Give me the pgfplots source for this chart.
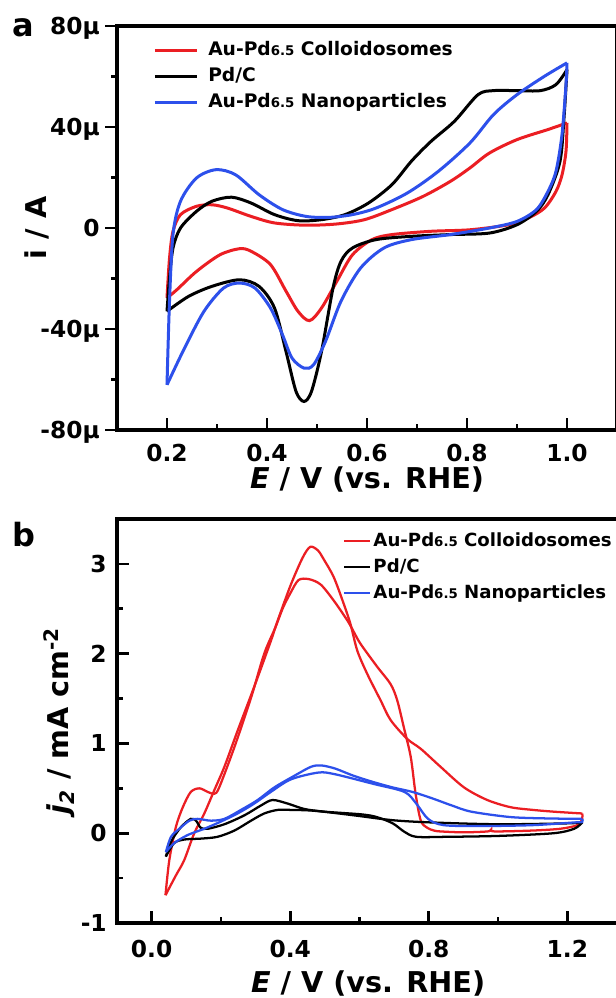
\documentclass[border=0pt]{standalone}
\usepackage{fontspec}
\setmainfont{DejaVu Sans}
\usepackage{pgfplots}
\pgfplotsset{compat=1.18}
\definecolor{cred}{RGB}{235,30,35}
\definecolor{cblue}{RGB}{45,80,235}
\newcommand\tickfont{\fontsize{17.5}{20}\selectfont\bfseries}
\newcommand\labfont{\fontsize{21.5}{24}\selectfont\bfseries}
\newcommand\legfont{\fontsize{14}{16}\selectfont\bfseries}
\newcommand\legfontb{\fontsize{13.6}{16}\selectfont\bfseries}
\newcommand\sm[1]{{\fontsize{10}{12}\selectfont #1}}
\pgfplotsset{
  myax/.style={
    scale only axis,
    clip=false,
    axis line style={line width=2.4pt},
    every tick/.style={line width=2pt, black},
    major tick length=9pt, minor tick length=4.5pt,
    tick align=inside,
    xtick pos=bottom, ytick pos=left,
    minor tick num=1,
    ticklabel style={font=\tickfont},
    label style={font=\labfont},
    /pgf/number format/assume math mode=true,
    legend cell align=left,
  }
}
\begin{document}
\begin{tikzpicture}
% ---------------- panel a ----------------
\begin{axis}[myax,
  at={(87.75pt,-322.5pt)}, anchor=south west,
  width=375pt, height=303pt,
  xmin=0.1, xmax=1.1, ymin=-80, ymax=80,
  xtick={0.2,0.4,0.6,0.8,1.0}, xticklabels={0.2,0.4,0.6,0.8,1.0},
  ytick={-80,-40,0,40,80}, yticklabels={-80µ,-40µ,0,40µ,80µ},
  major y tick style={xshift=-9pt},
  minor y tick style={xshift=-4.5pt},
  yticklabel style={anchor=east, inner sep=0pt, text depth=0pt, xshift=-12.75pt},
  xticklabel style={anchor=north, inner sep=0pt, yshift=-10.5pt},
  xlabel={{\itshape E} / V (vs. RHE)},
  ylabel={i / A},
  xlabel style={at={(axis description cs:0.5,-0.1436)}, anchor=base},
  ylabel style={at={(axis description cs:-0.142,0.5)}, anchor=base, rotate=0},
  legend style={at={(axis description cs:0.072,0.962)}, anchor=north west,
    draw=none, fill=none, inner sep=0pt, font=\legfont, row sep=6pt,
    nodes={inner sep=0pt, text height=10.5pt, text depth=3pt}},
  legend image code/.code={\draw[#1, line width=2.25pt] (0pt,0pt) -- (31.5pt,0pt); \path (39pt,0pt);},
]
\addplot[cred, line width=2.25pt, smooth, tension=0.5] table {
0.200 -27.7
0.205 -12
0.212 -1.3
0.227 5.3
0.259 8.6
0.290 9.2
0.321 7.9
0.368 4.6
0.415 2.0
0.478 1.1
0.540 1.6
0.595 3.3
0.650 7.3
0.712 12.5
0.767 18.5
0.806 23.8
0.845 29.7
0.900 35.0
0.962 39.0
1.000 41.6
};
\addlegendentry{Au-Pd\sm{6.5} Colloidosomes}
\addplot[cred, line width=2.25pt, smooth, tension=0.5, forget plot] table {
1.000 41.6
0.998 30.4
0.990 21.0
0.978 14.5
0.955 7.9
0.923 4.0
0.884 1.3
0.806 -0.7
0.728 -1.3
0.650 -2.6
0.610 -4.6
0.571 -10.6
0.540 -21.0
0.509 -31.7
0.485 -36.7
0.462 -33.0
0.438 -25.0
0.407 -14.5
0.368 -9.2
0.345 -8.2
0.306 -10.6
0.259 -17.2
0.220 -24.4
0.200 -27.7
};
\addplot[black, line width=2.25pt, smooth, tension=0.5] table {
0.200 -33.0
0.205 -20
0.212 -7.9
0.227 0.0
0.259 6.6
0.290 10.6
0.329 12.2
0.368 9.9
0.415 5.3
0.462 2.9
0.509 3.3
0.556 5.3
0.603 9.9
0.650 17.2
0.689 26.5
0.728 34.3
0.775 42.3
0.822 52.8
0.853 54.4
0.900 54.4
0.947 54.4
0.978 56.8
1.000 62.7
};
\addlegendentry{Pd/C}
\addplot[black, line width=2.25pt, smooth, tension=0.5, forget plot] table {
1.000 62.7
0.994 43.6
0.986 26.4
0.962 13.2
0.939 6.6
0.900 1.3
0.845 -2.0
0.767 -2.6
0.689 -3.3
0.618 -4.6
0.571 -7.9
0.548 -13.2
0.532 -23.8
0.509 -48.9
0.489 -64.7
0.474 -68.7
0.458 -64.7
0.438 -48.9
0.415 -31.7
0.384 -23.1
0.345 -20.5
0.290 -23.1
0.243 -27.1
0.200 -33.0
};
\addplot[cblue, line width=2.25pt, smooth, tension=0.5] table {
0.200 -62.1
0.205 -29
0.212 -2.6
0.227 10.6
0.259 19.8
0.298 23.1
0.337 21.1
0.384 13.2
0.431 7.3
0.478 4.6
0.524 4.2
0.571 5.3
0.618 7.9
0.681 13.9
0.743 22.5
0.806 33.7
0.853 44.9
0.900 52.8
0.955 60.1
1.000 65.4
};
\addlegendentry{Au-Pd\sm{6.5} Nanoparticles}
\addplot[cblue, line width=2.25pt, smooth, tension=0.5, forget plot] table {
1.000 65.4
0.998 56.8
0.990 37.0
0.978 22.5
0.962 14.5
0.939 7.3
0.900 2.6
0.845 0.0
0.767 -2.6
0.689 -4.6
0.634 -7.9
0.587 -15.9
0.548 -29.0
0.517 -44.9
0.493 -54.2
0.474 -55.5
0.450 -51.5
0.431 -42.3
0.407 -31.7
0.376 -23.8
0.345 -21.8
0.313 -23.8
0.274 -33.0
0.235 -47.6
0.200 -62.1
};
\node[font=\fontsize{24}{26}\selectfont\bfseries, anchor=base west, inner sep=0pt]
  at (axis description cs:-0.21,0.975) {a};
\end{axis}
% ---------------- panel b ----------------
\begin{axis}[myax,
  at={(87.75pt,-692.25pt)}, anchor=south west,
  width=376.7pt, height=303pt,
  xmin=-0.1, xmax=1.35, ymin=-1, ymax=3.5,
  xtick={0,0.4,0.8,1.2}, xticklabels={0.0,0.4,0.8,1.2},
  ytick={-1,0,1,2,3}, yticklabels={-1,0,1,2,3},
  yticklabel style={anchor=east, inner sep=0pt, text depth=0pt, xshift=-7.5pt},
  xticklabel style={anchor=north, inner sep=0pt, yshift=-12.75pt},
  xlabel={{\itshape E} / V (vs. RHE)},
  ylabel={{\itshape j\textsubscript{2}} / mA cm\textsuperscript{-2}},
  xlabel style={at={(axis description cs:0.5,-0.1708)}, anchor=base},
  ylabel style={at={(axis description cs:-0.0956,0.5)}, anchor=base, rotate=0},
  legend style={at={(axis description cs:0.450,0.968)}, anchor=north west,
    draw=none, fill=none, inner sep=0pt, font=\legfontb, row sep=6pt,
    nodes={inner sep=0pt, text height=10.5pt, text depth=3pt}},
  legend image code/.code={\draw[#1, line width=1.6pt] (0pt,0pt) -- (19.5pt,0pt); \path (21pt,0pt);},
]
\addplot[cred, line width=1.7pt, smooth, tension=0.5] table {
0.040 -0.69
0.070 -0.47
0.094 -0.30
0.123 0.00
0.152 0.22
0.181 0.48
0.210 0.74
0.248 1.14
0.296 1.63
0.344 2.14
0.364 2.37
0.402 2.77
0.436 3.07
0.458 3.19
0.480 3.15
0.497 3.05
0.526 2.85
0.555 2.55
0.574 2.33
0.594 2.03
0.623 1.77
0.661 1.48
0.690 1.26
0.738 1.05
0.777 0.94
0.834 0.74
0.902 0.51
0.969 0.37
1.036 0.29
1.100 0.26
1.161 0.24
1.243 0.22
};
\addlegendentry{Au-Pd\sm{6.5} Colloidosomes}
\addplot[cred, line width=1.7pt, smooth, tension=0.5, forget plot] table {
1.243 0.22
1.243 0.16
1.229 0.09
1.180 0.05
1.100 0.03
0.990 0.02
0.980 0.04
0.970 0.02
0.900 0.01
0.834 0.02
0.815 0.03
0.796 0.06
0.777 0.14
0.762 0.44
0.748 0.85
0.728 1.18
0.709 1.48
0.690 1.66
0.652 1.85
0.603 2.11
0.584 2.24
0.565 2.37
0.526 2.59
0.488 2.77
0.454 2.83
0.424 2.82
0.400 2.67
0.379 2.51
0.357 2.29
0.325 2.00
0.287 1.51
0.239 0.96
0.195 0.51
0.181 0.44
0.162 0.46
0.138 0.50
0.113 0.46
0.090 0.29
0.070 0.07
0.051 -0.30
0.040 -0.69
};
\addplot[black, line width=1.7pt, smooth, tension=0.5] table {
0.041 -0.26
0.050 -0.15
0.061 -0.06
0.085 0.07
0.113 0.16
0.128 0.14
0.142 0.06
0.162 0.05
0.210 0.10
0.268 0.20
0.316 0.31
0.349 0.37
0.393 0.33
0.441 0.27
0.500 0.24
0.606 0.21
0.650 0.18
0.696 0.11
0.730 0.015
0.764 -0.04
0.850 -0.04
1.000 -0.03
1.160 0.00
1.220 0.05
1.243 0.12
};
\addlegendentry{Pd/C}
\addplot[black, line width=1.7pt, smooth, tension=0.5, forget plot] table {
1.243 0.12
1.200 0.11
1.000 0.10
0.809 0.12
0.696 0.145
0.583 0.20
0.470 0.25
0.400 0.26
0.364 0.26
0.325 0.22
0.287 0.14
0.239 0.03
0.190 -0.04
0.142 -0.06
0.094 -0.07
0.065 -0.11
0.041 -0.26
};
\addplot[cblue, line width=1.7pt, smooth, tension=0.5] table {
0.041 -0.21
0.056 -0.04
0.080 0.05
0.109 0.14
0.133 0.16
0.171 0.14
0.210 0.16
0.258 0.26
0.306 0.37
0.354 0.51
0.412 0.64
0.460 0.74
0.490 0.755
0.530 0.72
0.583 0.64
0.640 0.57
0.696 0.51
0.753 0.46
0.809 0.39
0.866 0.31
0.923 0.24
1.036 0.18
1.140 0.165
1.243 0.16
};
\addlegendentry{Au-Pd\sm{6.5} Nanoparticles}
\addplot[cblue, line width=1.7pt, smooth, tension=0.5, forget plot] table {
1.243 0.16
1.243 0.125
1.220 0.12
1.100 0.09
0.950 0.08
0.843 0.09
0.798 0.16
0.764 0.33
0.730 0.46
0.640 0.55
0.526 0.66
0.480 0.675
0.402 0.60
0.344 0.46
0.296 0.33
0.248 0.22
0.200 0.13
0.152 0.05
0.104 -0.02
0.065 -0.11
0.041 -0.21
};
\node[font=\fontsize{24}{26}\selectfont\bfseries, anchor=base west, inner sep=0pt]
  at (axis description cs:-0.209,0.931) {b};
\end{axis}
\pgfresetboundingbox
\useasboundingbox (0pt,0pt) rectangle (461.25pt,-748.5pt);
\end{tikzpicture}
\end{document}
